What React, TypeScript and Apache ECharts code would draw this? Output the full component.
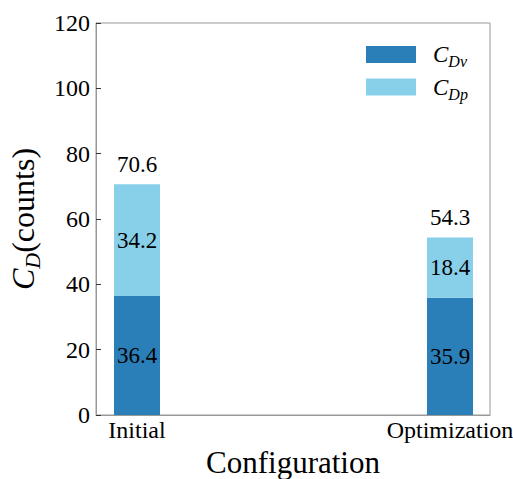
import React, { useEffect, useRef } from "react";
import * as echarts from "echarts";

const categories = ["Initial", "Optimization"];
const cdv = [36.4, 35.9];
const cdp = [34.2, 18.4];
const totals = [70.6, 54.3];

const FONT = "Liberation Serif";
const DARK = "#2a7fb8";
const LIGHT = "#88cfea";
const AXIS = "#999999";

export default function App() {
  const ref = useRef<HTMLDivElement>(null);
  useEffect(() => {
    if (!ref.current) return;
    const chart = echarts.init(ref.current, null, { renderer: "svg" });
    const barLabel = {
      show: true,
      position: "inside",
      color: "#000",
      fontFamily: FONT,
      fontSize: 23,
    };
    chart.setOption({
      animation: false,
      backgroundColor: "#fff",
      grid: [
        {
          left: 96,
          top: 23,
          right: 23,
          bottom: 64,
          show: true,
          borderColor: AXIS,
          borderWidth: 1,
          backgroundColor: "transparent",
          containLabel: false,
          outerBoundsMode: "none",
        },
        {
          left: -19.5,
          width: 626,
          top: 23,
          bottom: 64,
          containLabel: false,
          outerBoundsMode: "none",
        },
      ],
      legend: {
        orient: "vertical",
        left: 361,
        top: 38,
        itemWidth: 50,
        itemHeight: 17,
        itemGap: 6,
        icon: "rect",
        data: ["Dv", "Dp"],
        formatter: (name: string) => `{c|C}{s|${name}}`,
        textStyle: {
          padding: [0, 0, 0, 12],
          rich: {
            c: { fontFamily: FONT, fontStyle: "italic", fontSize: 23, lineHeight: 30, color: "#000" },
            s: { fontFamily: FONT, fontStyle: "italic", fontSize: 16, lineHeight: 16, verticalAlign: "bottom", color: "#000" },
          },
        },
      },
      xAxis: [
        {
          gridIndex: 0,
          type: "value",
          min: 0,
          max: 1,
          show: true,
          name: "Configuration",
          nameLocation: "middle",
          nameGap: 30,
          nameTextStyle: { fontFamily: FONT, fontSize: 31, color: "#000", verticalAlign: "top", lineHeight: 34 },
          axisLine: { show: true, lineStyle: { color: AXIS } },
          axisTick: { show: false },
          axisLabel: { show: false },
          splitLine: { show: false },
        },
        {
          gridIndex: 1,
          type: "category",
          data: categories,
          axisLine: { show: false },
          axisTick: { show: true, inside: true, length: 5, alignWithLabel: true, lineStyle: { color: "#333" } },
          axisLabel: {
            fontFamily: FONT,
            fontSize: 24,
            color: "#000",
            margin: 3,
          },
          splitLine: { show: false },
        },
      ],
      yAxis: [
        {
          gridIndex: 0,
          type: "value",
          min: 0,
          max: 120,
          interval: 20,
          name: "{i|C}{sub|D}{n|(counts)}",
          nameLocation: "middle",
          nameRotate: 90,
          nameGap: 48,
          nameTextStyle: {
            rich: {
              i: { fontFamily: FONT, fontStyle: "italic", fontSize: 32, lineHeight: 40, color: "#000" },
              sub: { fontFamily: FONT, fontStyle: "italic", fontSize: 22, lineHeight: 22, verticalAlign: "bottom", color: "#000" },
              n: { fontFamily: FONT, fontSize: 32, lineHeight: 40, color: "#000" },
            },
          },
          axisLine: { show: true, lineStyle: { color: AXIS } },
          axisTick: { show: true, inside: true, length: 5, lineStyle: { color: "#333" } },
          axisLabel: { fontFamily: FONT, fontSize: 24, color: "#000", margin: 6 },
          splitLine: { show: false },
        },
        {
          gridIndex: 1,
          type: "value",
          min: 0,
          max: 120,
          interval: 20,
          show: false,
          splitLine: { show: false },
        },
      ],
      series: [
        {
          name: "Dv",
          type: "bar",
          xAxisIndex: 1,
          yAxisIndex: 1,
          stack: "cd",
          barWidth: 46,
          itemStyle: { color: DARK },
          label: barLabel,
          data: cdv,
        },
        {
          name: "Dp",
          type: "bar",
          xAxisIndex: 1,
          yAxisIndex: 1,
          stack: "cd",
          barWidth: 46,
          itemStyle: { color: LIGHT },
          label: barLabel,
          data: cdp,
        },
        {
          name: "total",
          type: "scatter",
          xAxisIndex: 1,
          yAxisIndex: 1,
          symbolSize: 1,
          itemStyle: { color: "rgba(0,0,0,0)", opacity: 1 },
          label: {
            show: true,
            position: "top",
            distance: 8,
            color: "#000",
            fontFamily: FONT,
            fontSize: 23,
          },
          data: totals,
        },
      ],
    });
    return () => chart.dispose();
  }, []);
  return (
    <div
      ref={ref}
      style={{ position: "fixed", left: 0, top: 0, width: 513, height: 479 }}
    />
  );
}
